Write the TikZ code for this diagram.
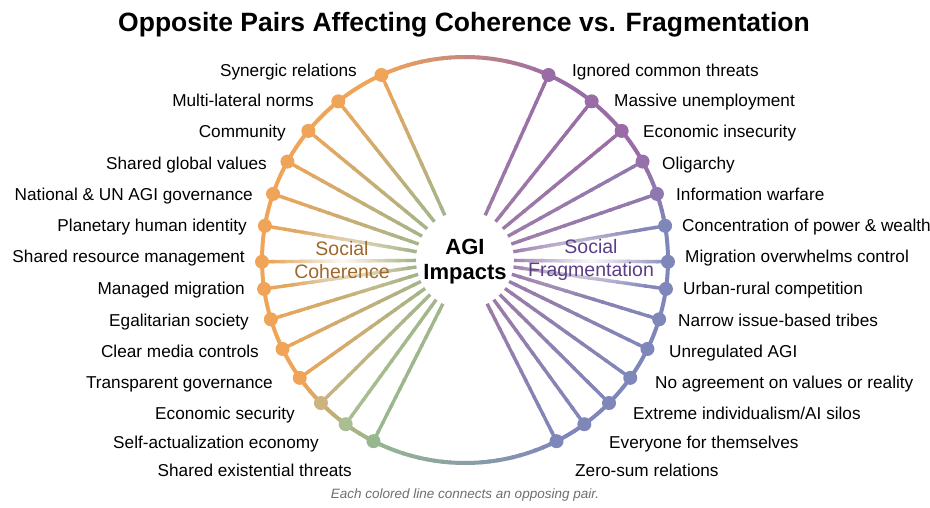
\documentclass[tikz,border=0pt]{standalone}
\usepackage{fontspec}
\setmainfont{Liberation Sans}
\usetikzlibrary{calc,fadings}
\definecolor{orangeC}{HTML}{F0A458}
\definecolor{tanC}{HTML}{CDB47F}
\definecolor{sageC}{HTML}{ABBD92}
\definecolor{greenC}{HTML}{97B88F}
\definecolor{purpleC}{HTML}{9A6CA6}
\definecolor{violetC}{HTML}{8F78B0}
\definecolor{blueC}{HTML}{7F87BA}
\definecolor{leftInner}{HTML}{A3B68B}
\definecolor{rightInner}{HTML}{9C7BA8}
\definecolor{cohText}{HTML}{A0682A}
\definecolor{fragText}{HTML}{5B3F86}
\definecolor{noteGray}{HTML}{6E6E6E}
\tikzfading[name=softell, inner color=transparent!5, outer color=transparent!100]
\newcommand\arcgrad[5]{%
  \foreach \k in {1,...,#5}{%
    \pgfmathsetmacro{\aa}{#1+(#2-#1)*(\k-1)/#5}%
    \pgfmathsetmacro{\ab}{#1+(#2-#1)*\k/#5+0.4}%
    \pgfmathtruncatemacro{\pc}{100-100*(\k-0.5)/#5}%
    \draw[arcline, draw=#3!\pc!#4] ($(C)+(\aa:203)$) arc[start angle=\aa, end angle=\ab, radius=203];
  }}
\newcommand\gradline[4]{%
  \foreach \k in {1,...,16}{%
    \pgfmathsetmacro{\ta}{(\k-1)/16}%
    \pgfmathsetmacro{\tb}{min(1,\k/16+0.015)}%
    \pgfmathtruncatemacro{\pc}{100-100*(\k-0.5)/16}%
    \draw[spoke, draw=#3!\pc!#4] ($(#1)!\ta!(#2)$) -- ($(#1)!\tb!(#2)$);
  }}
\begin{document}
\begin{tikzpicture}[x=1pt,y=1pt,
  arcline/.style={line width=4pt, line cap=butt},
  spoke/.style={line width=3.4pt, line cap=butt},
  dot/.style={circle, minimum size=14pt, inner sep=0pt, draw=none},
  lab/.style={font=\fontsize{17.2}{20}\selectfont, inner sep=0pt, text=black},
  side/.style={font=\fontsize{19.5}{23}\selectfont, align=center, inner sep=0pt}]
\useasboundingbox (0,0) rectangle (930,507);
\coordinate (C) at (465,247);

% left spokes
\foreach \a/\c [count=\i] in {114.3/orangeC,128.6/orangeC,140.5/orangeC,151/orangeC,161/orangeC,170.3/orangeC,180.5/orangeC,188.2/orangeC,197/orangeC,206/orangeC,215.5/orangeC,224.8/tanC,234/sageC,243.2/greenC}{
  \coordinate (Lp\i) at ($(C)+(\a:203)$);
  \coordinate (Lq\i) at ($(C)+(\a:49)$);
  \gradline{Lp\i}{Lq\i}{\c}{leftInner}
}
% right spokes
\foreach \a/\c [count=\i] in {65.7/purpleC,51.4/purpleC,39.5/purpleC,29/violetC,19/violetC,9.7/blueC,-0.5/blueC,-8.2/blueC,-17/blueC,-26/blueC,-35.5/blueC,-44.8/blueC,-54/blueC,-63.2/blueC}{
  \coordinate (Rp\i) at ($(C)+(\a:203)$);
  \coordinate (Rq\i) at ($(C)+(\a:49)$);
  \gradline{Rp\i}{Rq\i}{\c}{rightInner}
}

% soft white backgrounds for side titles
\fill[white, path fading=softell] (342,247) ellipse (70 and 36);
\fill[white, path fading=softell] (591,247) ellipse (82 and 36);

% outer circle
\draw[arcline, draw=blueC] ($(C)+(-63.2:203)$) arc[start angle=-63.2, end angle=10.4, radius=203];
\arcgrad{10}{30}{blueC}{purpleC}{10}
\draw[arcline, draw=purpleC] ($(C)+(29.8:203)$) arc[start angle=29.8, end angle=65.9, radius=203];
\arcgrad{65.7}{114.3}{purpleC}{orangeC}{24}
\draw[arcline, draw=orangeC] ($(C)+(114.1:203)$) arc[start angle=114.1, end angle=215.7, radius=203];
\arcgrad{215.5}{243.2}{orangeC}{greenC}{12}
\arcgrad{243.2}{296.8}{greenC}{blueC}{24}

% dots
\foreach \c [count=\i] in {orangeC,orangeC,orangeC,orangeC,orangeC,orangeC,orangeC,orangeC,orangeC,orangeC,orangeC,tanC,sageC,greenC}{
  \node[dot, fill=\c] (L\i) at (Lp\i) {};
}
\foreach \c [count=\i] in {purpleC,purpleC,purpleC,purpleC!60!violetC,violetC,blueC,blueC,blueC,blueC,blueC,blueC,blueC,blueC,blueC}{
  \node[dot, fill=\c] (R\i) at (Rp\i) {};
}

% left labels
\foreach \t/\x/\y [count=\i] in {Synergic relations/357/76.3,Multi-lateral norms/314/107,Community/286/138,Shared global values/267/169.5,National \& UN AGI governance/253/201,Planetary human identity/247/232,Shared resource management/245/263,Managed migration/245/295,Egalitarian society/249/326,Clear media controls/259/357,Transparent governance/273/388,Economic security/295/419,Self-actualization economy/319/448.5,Shared existential threats/352/476}{
  \node[lab, anchor=base east] (LT\i) at (\x,507-\y) {\t};
}
% right labels
\foreach \t/\x/\y [count=\i] in {Ignored common threats/572/76.3,Massive unemployment/614/107,Economic insecurity/643/138,Oligarchy/662/169.5,Information warfare/676/201,Concentration of power \& wealth/682/232,Migration overwhelms control/685/263,Urban-rural competition/683/295,Narrow issue-based tribes/678/326,Unregulated AGI/669/357,No agreement on values or reality/655/388,{Extreme individualism/AI silos}/633/419,Everyone for themselves/609/448.5,Zero-sum relations/575/476}{
  \node[lab, anchor=base west] (RT\i) at (\x,507-\y) {\t};
}

\node[side, text=cohText] (coh) at (342,247) {Social\\Coherence};
\node[side, text=fragText] (frag) at (591,247) {Social\\Fragmentation};

% centre
\node[font=\bfseries\fontsize{22}{25}\selectfont, anchor=base, inner sep=0pt] (agi) at (465,507-255) {AGI};
\node[font=\bfseries\fontsize{22}{25}\selectfont, anchor=base, inner sep=0pt] (imp) at (465,507-280) {Impacts};

% title and note
\node[font=\bfseries\fontsize{26.5}{30}\selectfont, anchor=base, inner sep=0pt] (title) at (464,507-32) {Opposite Pairs Affecting Coherence vs. Fragmentation};
\node[font=\itshape\fontsize{13.5}{16}\selectfont, text=noteGray, anchor=base, inner sep=0pt] (note) at (465,507-498) {Each colored line connects an opposing pair.};
\end{tikzpicture}
\end{document}
